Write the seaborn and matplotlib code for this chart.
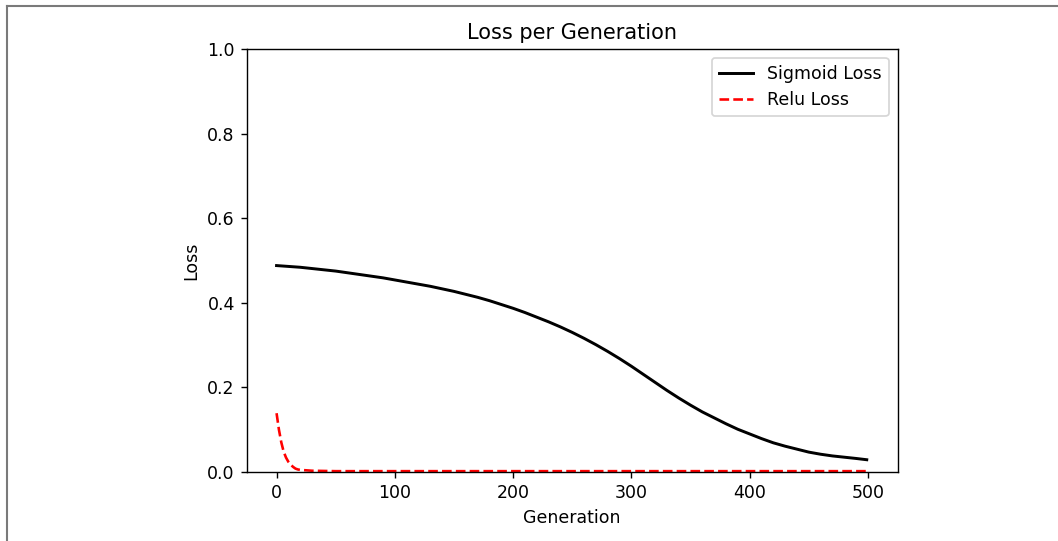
import matplotlib
matplotlib.use("Agg")
import matplotlib.pyplot as plt
import numpy as np
import pandas as pd
import seaborn as sns
from matplotlib.lines import Line2D

# Sigmoid loss, every 10 generations
sig_gen = [0, 10, 20, 30, 40, 50, 60, 70, 80, 90,
           100, 110, 120, 130, 140, 150, 160, 170, 180, 190,
           200, 210, 220, 230, 240, 250, 260, 270, 280, 290,
           300, 310, 320, 330, 340, 350, 360, 370, 380, 390,
           400, 410, 420, 430, 440, 450, 460, 470, 480, 490, 499]
sig_loss = [0.488, 0.486, 0.484, 0.481, 0.478, 0.475, 0.471, 0.467, 0.463, 0.459,
            0.454, 0.449, 0.444, 0.439, 0.433, 0.427, 0.420, 0.413, 0.405, 0.396,
            0.387, 0.377, 0.366, 0.355, 0.343, 0.330, 0.316, 0.301, 0.285, 0.268,
            0.250, 0.231, 0.212, 0.193, 0.175, 0.158, 0.142, 0.128, 0.114, 0.101,
            0.090, 0.079, 0.069, 0.061, 0.054, 0.047, 0.042, 0.038, 0.035, 0.032, 0.029]

# Relu loss
relu_gen = [0, 2, 4, 6, 8, 10, 12, 14, 16, 18, 20, 30, 50, 100,
            200, 300, 400, 499]
relu_loss = [0.139, 0.100, 0.070, 0.048, 0.034, 0.024, 0.017, 0.012, 0.008, 0.006,
             0.005, 0.003, 0.002, 0.002, 0.002, 0.002, 0.002, 0.002]

W, H, DPI = 1058, 541, 125
fig = plt.figure(figsize=(W / DPI, H / DPI), dpi=DPI)
ax = fig.add_axes([247 / W, 1 - 472 / H, 650.5 / W, 423 / H])

sns.lineplot(x=sig_gen, y=sig_loss, ax=ax, color="k", linestyle="-",
             linewidth=1.7, label="Sigmoid Loss", estimator=None)
sns.lineplot(x=relu_gen, y=relu_loss, ax=ax, color="r", linestyle="--",
             label="Relu Loss", estimator=None)

ax.set_title("Loss per Generation")
ax.set_xlabel("Generation")
ax.set_ylabel("Loss")
ax.set_ylim(0, 1)
ax.set_xlim(-25, 525)
ax.set_xticks([0, 100, 200, 300, 400, 500])
ax.legend(loc="upper right")

# thin grey frame around the screenshot (top and left edges)
fig.add_artist(Line2D([6.5 / W, 6.5 / W], [0, 1 - 5.5 / H], transform=fig.transFigure,
                      color="#7a7a7a", linewidth=1.2))
fig.add_artist(Line2D([6.5 / W, 1], [1 - 5.5 / H, 1 - 5.5 / H], transform=fig.transFigure,
                      color="#7a7a7a", linewidth=1.2))

fig.savefig("out.png", dpi=DPI)
